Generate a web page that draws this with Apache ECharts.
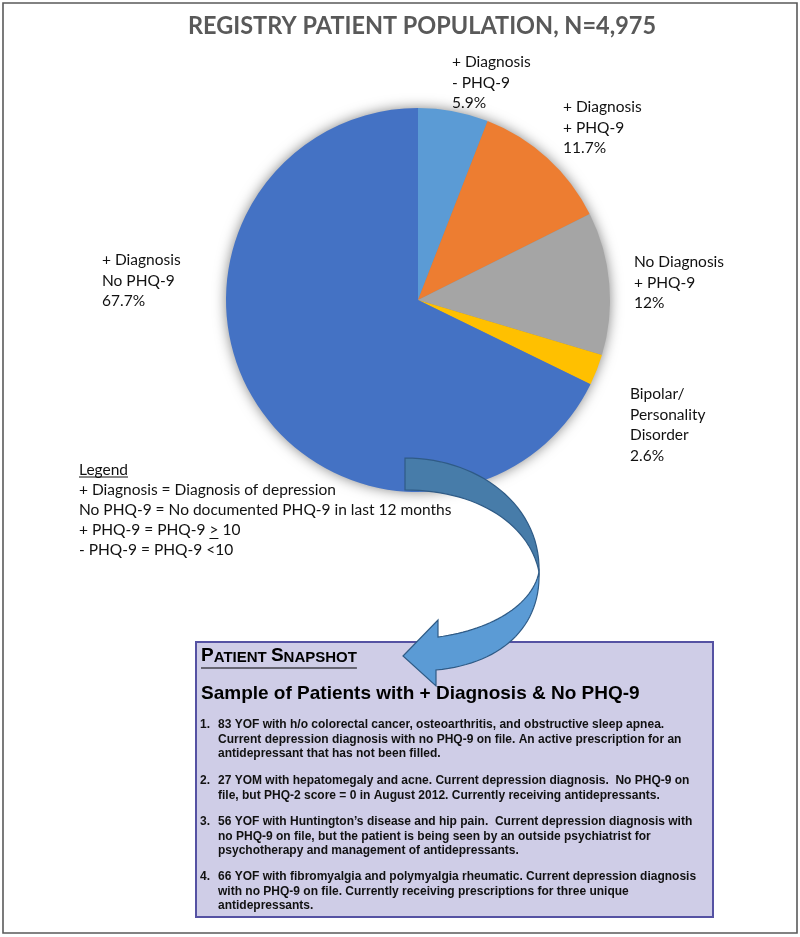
<!DOCTYPE html>
<html><head><meta charset="utf-8">
<script src="https://cdn.jsdelivr.net/npm/echarts@6/dist/echarts.min.js"></script>
<style>html,body{margin:0;padding:0;background:#fff}#c{width:800px;height:937px}</style>
</head><body><div id="c"></div>
<script>
// ---- data ----
const chartTitle = 'REGISTRY PATIENT POPULATION, N=4,975';
const categories = ['+ Diagnosis\n- PHQ-9', '+ Diagnosis\n+ PHQ-9', 'No Diagnosis\n+ PHQ-9', 'Bipolar/\nPersonality\nDisorder', '+ Diagnosis\nNo PHQ-9'];
const values = [5.9, 11.7, 12, 2.6, 67.7];
const colors = ['#5B9BD5', '#ED7D31', '#A5A5A5', '#FFC000', '#4472C4'];
const legendHeading = 'Legend';
const legendLines = [
  '+ Diagnosis = Diagnosis of depression',
  'No PHQ-9 = No documented PHQ-9 in last 12 months',
  '+ PHQ-9 = PHQ-9 > 10',
  '- PHQ-9 = PHQ-9 <10'
];
const snapshotTitle = ['P', 'ATIENT ', 'S', 'NAPSHOT'];
const snapshotHeading = 'Sample of Patients with + Diagnosis & No PHQ-9';
const snapshotItems = [
  ['83 YOF with h/o colorectal cancer, osteoarthritis, and obstructive sleep apnea.',
   'Current depression diagnosis with no PHQ-9 on file. An active prescription for an',
   'antidepressant that has not been filled.'],
  ['27 YOM with hepatomegaly and acne. Current depression diagnosis.  No PHQ-9 on',
   'file, but PHQ-2 score = 0 in August 2012. Currently receiving antidepressants.'],
  ['56 YOF with Huntington\u2019s disease and hip pain.  Current depression diagnosis with',
   'no PHQ-9 on file, but the patient is being seen by an outside psychiatrist for',
   'psychotherapy and management of antidepressants.'],
  ['66 YOF with fibromyalgia and polymyalgia rheumatic. Current depression diagnosis',
   'with no PHQ-9 on file. Currently receiving prescriptions for three unique',
   'antidepressants.']
];

// ---- layout (positions only) ----
const labelPos = [[452, 52], [563, 97], [634, 252], [630, 384], [102, 250]];
const itemTops = [717.5, 773.5, 814.5, 869.5];
const labelFont = 'Lato';
const boxFont = '"Liberation Sans", Arial, sans-serif';

function measure(text, font) {
  const c = document.createElement('canvas').getContext('2d');
  c.font = font;
  return c.measureText(text).width;
}
// sample a cubic bezier into points (decoration geometry)
function cubic(p0, p1, p2, p3, n) {
  const pts = [];
  for (let i = 0; i <= n; i++) {
    const t = i / n, u = 1 - t;
    pts.push([
      u*u*u*p0[0] + 3*u*u*t*p1[0] + 3*u*t*t*p2[0] + t*t*t*p3[0],
      u*u*u*p0[1] + 3*u*u*t*p1[1] + 3*u*t*t*p2[1] + t*t*t*p3[1]
    ]);
  }
  return pts;
}

const titleScale = 468 / measure(chartTitle, 'bold 25px Lato');
const legendPrefixW = measure('+ PHQ-9 = PHQ-9 ', '15.5px Lato');
const gtW = measure('>', '15.5px Lato');
const legendHeadW = measure(legendHeading, '15.5px Lato');
const snapW = measure('P', 'bold 19px ' + boxFont) + measure('ATIENT ', 'bold 15px ' + boxFont) +
              measure('S', 'bold 19px ' + boxFont) + measure('NAPSHOT', 'bold 15px ' + boxFont);

const chart = echarts.init(document.getElementById('c'));

const graphics = [
  { type: 'rect', z: 0, shape: { x: 3, y: 3, width: 794, height: 930 },
    style: { fill: 'none', stroke: '#5a5a5a', lineWidth: 1.6 } },
  { type: 'text', z: 10, x: 422, y: 26, scaleX: titleScale,
    style: { text: chartTitle, x: 0, y: 0, align: 'center', verticalAlign: 'middle',
      font: 'bold 25px Lato', fill: '#595959' } },
  // legend block
  { type: 'text', z: 10, x: 79, y: 470,
    style: { text: legendHeading, verticalAlign: 'middle', font: '15.5px Lato', fill: '#111' } },
  { type: 'line', z: 10, shape: { x1: 79, y1: 477, x2: 79 + legendHeadW, y2: 477 },
    style: { stroke: '#111', lineWidth: 1 } },
  { type: 'text', z: 10, x: 79, y: 480,
    style: { text: legendLines.join('\n'), verticalAlign: 'top', lineHeight: 20, font: '15.5px Lato', fill: '#111' } },
  { type: 'line', z: 10, shape: { x1: 79 + legendPrefixW, y1: 538.5, x2: 79 + legendPrefixW + gtW, y2: 538.5 },
    style: { stroke: '#111', lineWidth: 1 } },
  // snapshot box
  { type: 'rect', z: 5, shape: { x: 196, y: 642, width: 517, height: 275 },
    style: { fill: '#CFCDE7', stroke: '#5552A3', lineWidth: 2 } },
  { type: 'text', z: 10, x: 201, y: 665,
    style: { text: `{b|${snapshotTitle[0]}}{s|${snapshotTitle[1]}}{b|${snapshotTitle[2]}}{s|${snapshotTitle[3]}}`,
      verticalAlign: 'bottom',
      rich: { b: { font: 'bold 19px ' + boxFont, fill: '#000', verticalAlign: 'bottom' },
              s: { font: 'bold 15px ' + boxFont, fill: '#000', verticalAlign: 'bottom' } } } },
  { type: 'line', z: 10, shape: { x1: 201, y1: 668, x2: 201 + snapW, y2: 668 },
    style: { stroke: '#000', lineWidth: 1.2 } },
  { type: 'text', z: 10, x: 201, y: 694,
    style: { text: snapshotHeading, verticalAlign: 'middle', font: 'bold 19px ' + boxFont, fill: '#000' } }
];
snapshotItems.forEach((lines, i) => {
  graphics.push({ type: 'text', z: 10, x: 200, y: itemTops[i],
    style: { text: (i + 1) + '.', verticalAlign: 'top', lineHeight: 14.6, font: 'bold 12px ' + boxFont, fill: '#111' } });
  graphics.push({ type: 'text', z: 10, x: 218, y: itemTops[i],
    style: { text: lines.join('\n'), verticalAlign: 'top', lineHeight: 14.6, font: 'bold 12px ' + boxFont, fill: '#111' } });
});
// curved arrow (decoration)
const upperArrow = cubic([405, 458], [478, 458], [541, 505], [539, 572], 30)
  .concat(cubic([539, 572], [530, 526], [480, 490], [405, 490], 30));
const lowerArrow = cubic([539, 572], [541, 628], [500, 664], [436, 670], 30)
  .concat([[436, 686], [403, 656], [438, 620], [438, 637]])
  .concat(cubic([438, 637], [490, 630], [532, 606], [539, 572], 30));
graphics.push({ type: 'polygon', z: 50, shape: { points: upperArrow },
  style: { fill: '#477CA9', stroke: '#2F5B86', lineWidth: 1.2 } });
graphics.push({ type: 'polygon', z: 51, shape: { points: lowerArrow },
  style: { fill: '#5B9BD5', stroke: '#2F5B86', lineWidth: 1.2 } });

chart.setOption({
  backgroundColor: '#fff',
  animation: false,
  graphic: graphics,
  series: [
    { type: 'pie', silent: true, z: 1, center: [418, 300], radius: 191,
      label: { show: false }, labelLine: { show: false },
      data: [{ value: 1, itemStyle: { color: '#888', shadowBlur: 14, shadowColor: 'rgba(0,0,0,0.55)' } }] },
    { type: 'pie', z: 2, center: [418, 300], radius: 192, startAngle: 90, clockwise: true,
      avoidLabelOverlap: false,
      itemStyle: { borderWidth: 0 },
      label: { show: true, position: 'outside', formatter: p => p.name + '\n' + p.value + '%',
        fontFamily: labelFont, fontSize: 15.5, lineHeight: 20.5, color: '#111' },
      labelLine: { show: false },
      labelLayout: p => ({ x: labelPos[p.dataIndex][0], y: labelPos[p.dataIndex][1], align: 'left', verticalAlign: 'top' }),
      data: categories.map((c, i) => ({ name: c, value: values[i], itemStyle: { color: colors[i] } }))
    }
  ]
});
</script>
</body></html>
